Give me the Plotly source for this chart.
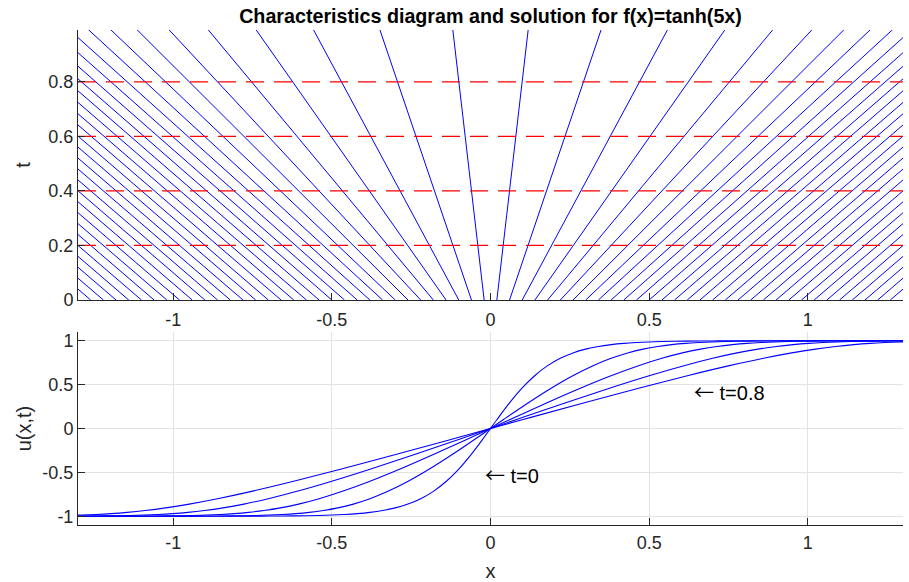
import plotly.graph_objects as go

# Characteristic foot points x0 and initial values u0 = f(x0) (slopes of characteristics)
x0_vals = [-1.30, -1.26, -1.22, -1.18, -1.14, -1.10, -1.06, -1.02, -0.98, -0.94,
           -0.90, -0.86, -0.82, -0.78, -0.74, -0.70, -0.66, -0.62, -0.58, -0.54,
           -0.50, -0.46, -0.42, -0.38, -0.34, -0.30, -0.26, -0.22, -0.18, -0.14,
           -0.10, -0.06, -0.02,
           0.02, 0.06, 0.10, 0.14, 0.18, 0.22, 0.26, 0.30, 0.34, 0.38,
           0.42, 0.46, 0.50, 0.54, 0.58, 0.62, 0.66, 0.70, 0.74, 0.78,
           0.82, 0.86, 0.90, 0.94, 0.98, 1.02, 1.06, 1.10, 1.14, 1.18,
           1.22, 1.26, 1.30]
u0_vals = [-1.0, -1.0, -1.0, -1.0, -1.0, -1.0, -1.0, -0.9999, -0.9999, -0.9998,
           -0.9998, -0.9996, -0.9995, -0.9992, -0.9988, -0.9982, -0.9973, -0.9959, -0.9940, -0.9910,
           -0.9866, -0.9801, -0.9705, -0.9562, -0.9354, -0.9051, -0.8617, -0.8005, -0.7163, -0.6044,
           -0.4621, -0.2913, -0.0997,
           0.0997, 0.2913, 0.4621, 0.6044, 0.7163, 0.8005, 0.8617, 0.9051, 0.9354, 0.9562,
           0.9705, 0.9801, 0.9866, 0.9910, 0.9940, 0.9959, 0.9973, 0.9982, 0.9988, 0.9992,
           0.9995, 0.9996, 0.9998, 0.9998, 0.9999, 0.9999, 1.0, 1.0, 1.0, 1.0,
           1.0, 1.0, 1.0]
dash_levels = [0.2, 0.4, 0.6, 0.8]
solution_times = [0.0, 0.2, 0.4, 0.6, 0.8]
x_ticks = [-1, -0.5, 0, 0.5, 1]
x_tick_labels = ["-1", "-0.5", "0", "0.5", "1"]
t_ticks = [0, 0.2, 0.4, 0.6, 0.8]
t_tick_labels = ["0", "0.2", "0.4", "0.6", "0.8"]
u_ticks = [-1, -0.5, 0, 0.5, 1]
u_tick_labels = ["-1", "-0.5", "0", "0.5", "1"]

T_END = 1.0
BLUE = "rgb(0,0,255)"
AX = "#262626"
FONT = "Liberation Sans, Arial, sans-serif"
TICK_SIZE = 18
LABEL_SIZE = 20

fig = go.Figure()

# characteristics
cx, ct = [], []
for x0, u0 in zip(x0_vals, u0_vals):
    cx += [x0, x0 + u0 * T_END, None]
    ct += [0, T_END, None]
fig.add_trace(go.Scatter(x=cx, y=ct, mode="lines", line=dict(color=BLUE, width=1),
                         xaxis="x", yaxis="y", showlegend=False, hoverinfo="skip"))

# dashed time levels
for lv in dash_levels:
    fig.add_trace(go.Scatter(x=[-1.3, 1.3], y=[lv, lv], mode="lines",
                             line=dict(color="red", width=1.3, dash="18px,10px"),
                             xaxis="x", yaxis="y", showlegend=False, hoverinfo="skip"))

# solution curves
for tt in solution_times:
    xs = [x0 + u0 * tt for x0, u0 in zip(x0_vals, u0_vals)]
    fig.add_trace(go.Scatter(x=xs, y=u0_vals, mode="lines",
                             line=dict(color=BLUE, width=1.1, shape="spline"),
                             xaxis="x2", yaxis="y2", showlegend=False, hoverinfo="skip"))

axis_common = dict(showline=True, linecolor=AX, linewidth=1, ticks="inside", ticklen=7,
                   tickcolor=AX, tickfont=dict(family=FONT, size=TICK_SIZE, color=AX),
                   zeroline=False, mirror=False, automargin=False)

ARROW = '<span style="font-family:Noto Sans CJK JP;font-size:20px">\u2190</span>'

fig.update_layout(
    width=909, height=582,
    margin=dict(l=78, r=6, t=30, b=57),
    paper_bgcolor="white", plot_bgcolor="white",
    font=dict(family=FONT, color=AX),
    title=dict(text="<b>Characteristics diagram and solution for f(x)=tanh(5x)</b>",
               x=0.5, xref="paper", xanchor="center", y=1 - 16 / 582, yref="container",
               yanchor="middle", font=dict(family=FONT, size=19.7, color="black")),
    xaxis=dict(domain=[0, 1], range=[-1.3, 1.3], anchor="y", tickvals=x_ticks,
               ticktext=x_tick_labels, showgrid=False, ticklabelstandoff=3, **axis_common),
    yaxis=dict(domain=[0.4545, 1], range=[0, 0.99], anchor="x", tickvals=t_ticks,
               ticktext=t_tick_labels, showgrid=False,
               title=dict(text="t", font=dict(family=FONT, size=LABEL_SIZE, color=AX), standoff=12),
               **axis_common),
    xaxis2=dict(domain=[0, 1], range=[-1.3, 1.3], anchor="y2", tickvals=x_ticks,
                ticktext=x_tick_labels, showgrid=True, gridcolor="#e3e3e3", ticklabelstandoff=1,
                title=dict(text="x", font=dict(family=FONT, size=LABEL_SIZE, color=AX), standoff=13),
                **axis_common),
    yaxis2=dict(domain=[0, 0.3899], range=[-1.1, 1.1], anchor="x2", tickvals=u_ticks,
                ticktext=u_tick_labels, showgrid=True, gridcolor="#e3e3e3",
                title=dict(text="u(x,t)", font=dict(family=FONT, size=LABEL_SIZE, color=AX), standoff=5),
                **axis_common),
    annotations=[
        dict(text=ARROW + " t=0", x=-0.025, y=-0.52, xref="x2", yref="y2", xanchor="left",
             yanchor="middle", showarrow=False, font=dict(family=FONT, size=LABEL_SIZE, color="black")),
        dict(text=ARROW + " t=0.8", x=0.635, y=0.42, xref="x2", yref="y2", xanchor="left",
             yanchor="middle", showarrow=False, font=dict(family=FONT, size=LABEL_SIZE, color="black")),
    ],
)

fig.write_html("out.html")
